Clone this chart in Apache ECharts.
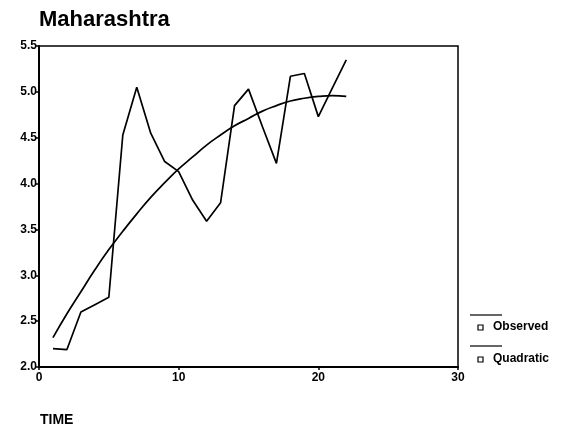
<!DOCTYPE html>
<html>
<head>
<meta charset="utf-8">
<script src="https://cdn.jsdelivr.net/npm/echarts@6/dist/echarts.min.js"></script>
<style>html,body{margin:0;padding:0;background:#fff;}#c{width:566px;height:433px;}</style>
</head>
<body>
<div id="c"></div>
<script>
var time = [1,2,3,4,5,6,7,8,9,10,11,12,13,14,15,16,17,18,19,20,21,22];
var observed = [2.20,2.19,2.60,2.68,2.76,4.53,5.05,4.55,4.24,4.13,3.82,3.59,3.79,4.85,5.03,4.62,4.22,5.17,5.20,4.73,5.04,5.35];
var quadratic = [2.32,2.58,2.82,3.06,3.28,3.48,3.67,3.85,4.01,4.16,4.29,4.42,4.53,4.63,4.71,4.79,4.85,4.90,4.93,4.95,4.96,4.95];
var titleText = "Maharashtra";
var xName = "TIME";
var legendNames = ["Observed", "Quadratic"];

function pairs(xs, ys){ return xs.map(function(x,i){ return [x, ys[i]]; }); }

var chart = echarts.init(document.getElementById('c'), null, {renderer:'canvas'});
var font = 'Liberation Sans, Arial, sans-serif';
chart.setOption({
  animation: false,
  backgroundColor: '#fff',
  title: {
    text: titleText, left: 34, top: 4,
    textStyle: {fontFamily: font, fontWeight: 'bold', fontSize: 22, color: '#000'}
  },
  grid: {left: 39, right: 108, top: 46, bottom: 66, show: true, borderColor: '#000', borderWidth: 1.5, backgroundColor: 'transparent'},
  xAxis: {
    type: 'value', min: 0, max: 30, interval: 10,
    axisLine: {show: true, onZero: false, lineStyle: {color: '#000', width: 2}},
    axisTick: {show: true, length: 3, lineStyle: {color: '#000', width: 1.5}},
    axisLabel: {color: '#000', fontFamily: font, fontWeight: 'bold', fontSize: 12, margin: 5},
    splitLine: {show: false}
  },
  yAxis: {
    type: 'value', min: 2, max: 5.5, interval: 0.5,
    axisLine: {show: true, lineStyle: {color: '#000', width: 2}},
    axisTick: {show: true, length: 3, lineStyle: {color: '#000', width: 1.5}},
    axisLabel: {color: '#000', fontFamily: font, fontWeight: 'bold', fontSize: 12, margin: 2,
      formatter: function(v){ return v.toFixed(1); }},
    splitLine: {show: false}
  },
  series: [
    {name: legendNames[0], type: 'line', data: pairs(time, observed), showSymbol: false,
     lineStyle: {color: '#000', width: 1.7}, itemStyle: {color: '#000'}},
    {name: legendNames[1], type: 'line', data: pairs(time, quadratic), showSymbol: false, smooth: true,
     lineStyle: {color: '#000', width: 1.7}, itemStyle: {color: '#000'}}
  ],
  graphic: [
    {type: 'text', left: 40, top: 413, style: {text: xName, font: 'bold 14px ' + font, fill: '#000'}},
    {type: 'line', shape: {x1: 470, y1: 315, x2: 502, y2: 315}, style: {stroke: '#000', lineWidth: 1.2}},
    {type: 'rect', shape: {x: 478, y: 325, width: 5, height: 5}, style: {stroke: '#000', fill: '#fff', lineWidth: 1.2}},
    {type: 'text', left: 493, top: 321, style: {text: legendNames[0], font: 'bold 12px ' + font, fill: '#000'}},
    {type: 'line', shape: {x1: 470, y1: 346, x2: 502, y2: 346}, style: {stroke: '#000', lineWidth: 1.2}},
    {type: 'rect', shape: {x: 478, y: 357, width: 5, height: 5}, style: {stroke: '#000', fill: '#fff', lineWidth: 1.2}},
    {type: 'text', left: 493, top: 353, style: {text: legendNames[1], font: 'bold 12px ' + font, fill: '#000'}}
  ]
});
</script>
</body>
</html>
